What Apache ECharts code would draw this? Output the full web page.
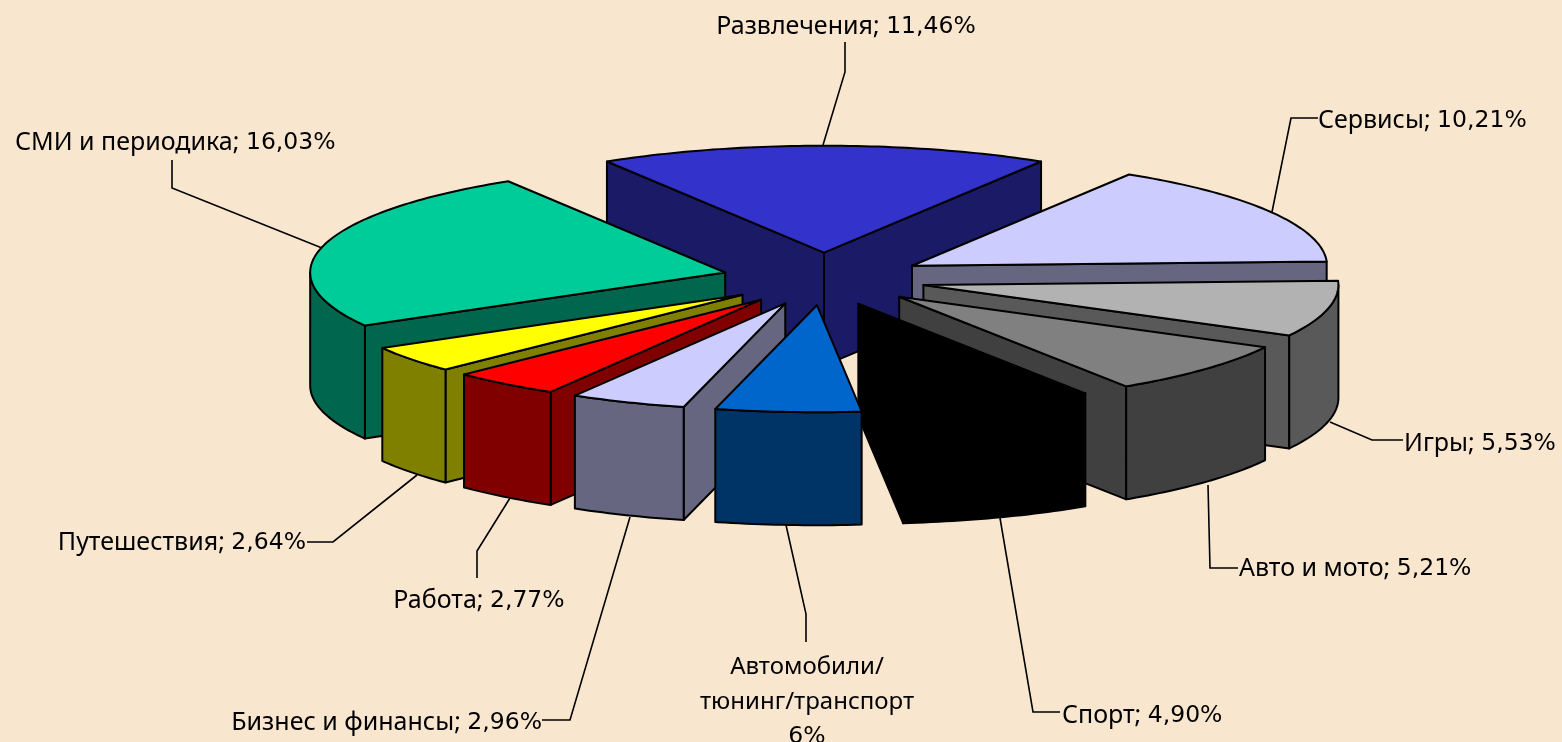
<!DOCTYPE html>
<html>
<head>
<meta charset="utf-8">
<style>
  html, body { margin: 0; height: 100%; background: #F9E6CF; }
  #chart-container { width: 1562px; height: 742px; }
</style>
<script src="https://cdn.jsdelivr.net/npm/echarts@6/dist/echarts.min.js"></script>
</head>
<body>
<div id="chart-container"></div>
<script>
var categories = ['Развлечения', 'Сервисы', 'Игры', 'Авто и мото', 'Спорт',
  'Автомобили/тюнинг/транспорт', 'Бизнес и финансы', 'Работа', 'Путешествия', 'СМИ и периодика'];
var values = [11.46, 10.21, 5.53, 5.21, 4.90, 3.7, 2.96, 2.77, 2.64, 16.03];
var valueLabels = ['11,46%', '10,21%', '5,53%', '5,21%', '4,90%', '6%', '2,96%', '2,77%', '2,64%', '16,03%'];
var topColors = ['#3333CC', '#CCCCFF', '#B2B2B2', '#808080', '#000000', '#0066CC', '#CCCCFF', '#FF0000', '#FFFF00', '#00CC99'];
var sideColors = ['#1A1A66', '#666680', '#595959', '#404040', '#000000', '#003366', '#666680', '#800000', '#808000', '#00664D'];

// pie geometry in page pixels
var cx = 824, cy = 279, rx = 415, ry = 107, depth = 113, explode = 102;

// label boxes and leader lines, same order as categories
var labelLayout = [
  { x: 846, y: 27, align: 'center', line: [[845, 42], [845, 72], [823, 145]] },
  { x: 1318, y: 121, align: 'left', line: [[1318, 118], [1291, 118], [1272, 212]] },
  { x: 1404, y: 444, align: 'left', line: [[1403, 440], [1372, 440], [1330, 422]] },
  { x: 1239, y: 569, align: 'left', line: [[1238, 568], [1210, 568], [1208, 485]] },
  { x: 1062, y: 716, align: 'left', line: [[1060, 712], [1033, 712], [1000, 518]] },
  { x: 807, y: 702, align: 'center', line: [[806, 642], [806, 614], [786, 525]], lines: ['Автомобили/', 'тюнинг/транспорт'] },
  { x: 542, y: 723, align: 'right', line: [[542, 720], [570, 720], [630, 517]] },
  { x: 479, y: 601, align: 'center', line: [[477, 578], [477, 551], [510, 498]] },
  { x: 306, y: 543, align: 'right', line: [[307, 542], [333, 542], [417, 475]] },
  { x: 15, y: 143, align: 'left', line: [[172, 160], [172, 188], [322, 248]] }
];

var total = values.reduce(function (a, b) { return a + b; }, 0);
var degPerUnit = 360 / total;

// slices run clockwise from the top, the first one is centred on 12 o'clock
var slices = [];
var angle = -values[0] * degPerUnit / 2;
values.forEach(function (v, i) {
  slices.push([i, angle, angle + v * degPerUnit]);
  angle += v * degPerUnit;
});

// slices further back are painted first
var paintRank = {};
slices.slice().sort(function (a, b) {
  return -Math.cos((a[1] + a[2]) / 360 * Math.PI) + Math.cos((b[1] + b[2]) / 360 * Math.PI);
}).forEach(function (s, rank) { paintRank[s[0]] = rank; });

function rad(d) { return d * Math.PI / 180; }

function renderSlice(params, api) {
  var i = api.value(0), start = api.value(1), end = api.value(2);
  var mid = (start + end) / 2;
  var ax = cx + explode * Math.sin(rad(mid));
  var ay = cy - explode * Math.cos(rad(mid)) * ry / rx;

  function rim(d, drop) {
    return [ax + rx * Math.sin(rad(d)), ay - ry * Math.cos(rad(d)) + (drop || 0)];
  }
  function poly(pts, fill, sub) {
    return {
      type: 'polygon',
      z2: paintRank[i] * 10 + sub,
      shape: { points: pts.map(function (p) { return api.coord(p); }) },
      style: { fill: fill, stroke: '#000', lineWidth: 2, lineJoin: 'round' }
    };
  }
  function radialWall(d) {
    return poly([[ax, ay], rim(d), rim(d, depth), [ax, ay + depth]], sideColors[i], 1);
  }

  var children = [];
  if (Math.sin(rad(start)) < 0) children.push(radialWall(start));
  if (Math.sin(rad(end)) > 0) children.push(radialWall(end));

  // outer wall, only the part that faces the viewer
  var from = Math.max(start, 90), to = Math.min(end, 270);
  var d;
  if (to > from) {
    var upper = [], lower = [];
    for (d = from; d < to; d += 1) { upper.push(rim(d)); lower.unshift(rim(d, depth)); }
    upper.push(rim(to)); lower.unshift(rim(to, depth));
    children.push(poly(upper.concat(lower), sideColors[i], 2));
  }

  var top = [[ax, ay]];
  for (d = start; d < end; d += 1) top.push(rim(d));
  top.push(rim(end));
  children.push(poly(top, topColors[i], 3));

  return { type: 'group', children: children };
}

// names in a narrow face, figures in a wider one, closest to the original Tahoma
var labelRich = {
  n: { font: '25px "Noto Sans", sans-serif', fill: '#000', lineHeight: 35 },
  m: { font: '24px "Noto Sans", sans-serif', fill: '#000', lineHeight: 35 },
  v: { font: '23.5px "DejaVu Sans", sans-serif', fill: '#000', lineHeight: 35 }
};

var labelGraphics = [];
categories.forEach(function (name, i) {
  var l = labelLayout[i];
  labelGraphics.push({
    type: 'polyline',
    silent: true,
    shape: { points: l.line },
    style: { fill: 'none', stroke: '#000', lineWidth: 1.6 }
  });
  var text = l.lines
    ? l.lines.map(function (t) { return '{m|' + t + '}'; }).join('\n') + '\n{v|' + valueLabels[i] + '}'
    : '{n|' + name + '; }{v|' + valueLabels[i] + '}';
  labelGraphics.push({
    type: 'text',
    silent: true,
    x: l.x,
    y: l.y,
    style: {
      text: text,
      rich: labelRich,
      align: l.align,
      verticalAlign: 'middle'
    }
  });
});

var dom = document.getElementById('chart-container');
var myChart = echarts.init(dom, null, { renderer: 'canvas' });

var option = {
  backgroundColor: '#F9E6CF',
  animation: false,
  grid: { left: 0, right: 0, top: 0, bottom: 0 },
  xAxis: { type: 'value', min: 0, max: 1562, show: false },
  yAxis: { type: 'value', min: 0, max: 742, inverse: true, show: false },
  graphic: labelGraphics,
  series: [{
    type: 'custom',
    coordinateSystem: 'cartesian2d',
    clip: false,
    silent: true,
    encode: { x: 1, y: 2 },
    renderItem: renderSlice,
    data: slices
  }]
};

myChart.setOption(option);
window.addEventListener('resize', myChart.resize);
</script>
</body>
</html>
